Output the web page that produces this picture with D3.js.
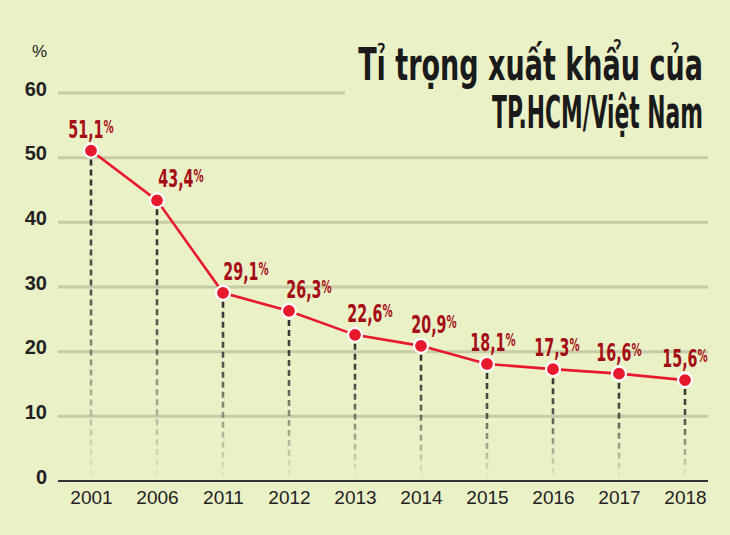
<!DOCTYPE html>
<html><head><meta charset="utf-8">
<script src="https://cdn.jsdelivr.net/npm/d3@7"></script>
<style>
html,body{margin:0;padding:0;background:#ebf1c7;}
svg{display:block;}
</style></head>
<body>
<svg id="chart" width="730" height="535"></svg>
<script>
const years = ["2001","2006","2011","2012","2013","2014","2015","2016","2017","2018"];
const shares = [51.1, 43.4, 29.1, 26.3, 22.6, 20.9, 18.1, 17.3, 16.6, 15.6];
const valueLabels = ["51,1","43,4","29,1","26,3","22,6","20,9","18,1","17,3","16,6","15,6"];
const yTicks = [0, 10, 20, 30, 40, 50, 60];
const titleLines = ["Tỉ trọng xuất khẩu của", "TP.HCM/Việt Nam"];
const unitLabel = "%";
// annotation layout nudges (px) for value labels
const labelNudge = [0, 24, 23, 20, 15, 13, 6, 4, 0, 0];

const svg = d3.select("#chart");
const W = 730, H = 535;
svg.append("rect").attr("width", W).attr("height", H).attr("fill", "#ebf1c7");

const x = d3.scalePoint().domain(years).range([91, 685]);
const y = d3.scaleLinear().domain([0, 60]).range([481, 93]);

const condensed = "'DejaVu Sans Condensed','DejaVu Sans',sans-serif";

// gridlines
svg.append("g").selectAll("line").data(yTicks.filter(d => d > 0)).join("line")
  .attr("x1", 58).attr("x2", d => d === 60 ? 345 : 708)
  .attr("y1", d => y(d)).attr("y2", d => y(d))
  .attr("stroke", "#c6caa6").attr("stroke-width", 3);

// y axis labels
const yAxis = d3.axisLeft(y).tickValues(yTicks).tickSize(0).tickPadding(0);
const gy = svg.append("g").attr("transform", "translate(47,0)").call(yAxis);
gy.select(".domain").remove();
gy.selectAll("text")
  .attr("font-family", "'Liberation Sans',Arial,sans-serif")
  .attr("font-weight", "bold").attr("font-size", 20).attr("fill", "#222")
  .attr("dy", "0.1em");

svg.append("text").attr("x", 47).attr("y", 57).attr("text-anchor", "end")
  .attr("font-family", "'Liberation Sans',Arial,sans-serif")
  .attr("font-size", 17).attr("fill", "#222").text(unitLabel);

// x axis
const xAxis = d3.axisBottom(x).tickSize(0).tickPadding(10);
const gx = svg.append("g").attr("transform", `translate(0,${y(0)})`).call(xAxis);
gx.select(".domain").remove();
gx.selectAll("text")
  .attr("font-family", "'Liberation Sans',Arial,sans-serif")
  .attr("font-size", 19).attr("fill", "#222");
svg.append("line").attr("x1", 58).attr("x2", 708).attr("y1", y(0)).attr("y2", y(0))
  .attr("stroke", "#333").attr("stroke-width", 2);

// drop lines with fading gradient
const defs = svg.append("defs");
years.forEach((yr, i) => {
  const g = defs.append("linearGradient").attr("id", "fade" + i)
    .attr("gradientUnits", "userSpaceOnUse")
    .attr("x1", 0).attr("x2", 0)
    .attr("y1", y(shares[i])).attr("y2", y(0) - 4);
  g.append("stop").attr("offset", "0%").attr("stop-color", "#222").attr("stop-opacity", 0.95);
  g.append("stop").attr("offset", "45%").attr("stop-color", "#333").attr("stop-opacity", 0.8);
  g.append("stop").attr("offset", "100%").attr("stop-color", "#555").attr("stop-opacity", 0.05);
});
svg.append("g").selectAll("line").data(years).join("line")
  .attr("x1", d => x(d)).attr("x2", d => x(d))
  .attr("y1", (d, i) => y(shares[i]) + 9).attr("y2", y(0) - 4)
  .attr("stroke", (d, i) => `url(#fade${i})`)
  .attr("stroke-width", 2.6).attr("stroke-dasharray", "6,4");

// line
const line = d3.line().x((d, i) => x(years[i])).y(d => y(d));
svg.append("path").datum(shares).attr("d", line)
  .attr("fill", "none").attr("stroke", "#e8192c").attr("stroke-width", 2.6);

// points
svg.append("g").selectAll("circle").data(shares).join("circle")
  .attr("cx", (d, i) => x(years[i])).attr("cy", d => y(d)).attr("r", 7)
  .attr("fill", "#e8192c").attr("stroke", "#fff").attr("stroke-width", 2.2);

// value labels
const lbl = svg.append("g").selectAll("text").data(shares).join("text")
  .attr("transform", (d, i) => `translate(${x(years[i]) + labelNudge[i]},${y(d) - 13}) scale(0.66,1)`)
  .attr("text-anchor", "middle")
  .attr("font-family", condensed).attr("font-weight", "bold")
  .attr("fill", "#a50d16");
lbl.append("tspan").attr("font-size", 24).text((d, i) => valueLabels[i]);
lbl.append("tspan").attr("font-size", 17).attr("dy", -5).text("%");

// title: fit each line to the reference width
const titleSpec = [{base: 80, size: 45, width: 345}, {base: 128, size: 45, width: 211}];
svg.append("g").selectAll("text").data(titleLines).join("text")
  .attr("text-anchor", "end")
  .attr("font-family", condensed).attr("font-weight", "bold")
  .attr("font-size", (d, i) => titleSpec[i].size)
  .attr("fill", "#1a1a1a")
  .text(d => d)
  .each(function(d, i) {
    const w = this.getComputedTextLength();
    const s = titleSpec[i].width / w;
    d3.select(this).attr("transform", `translate(703,${titleSpec[i].base}) scale(${s},1)`);
  });
</script>
</body></html>
